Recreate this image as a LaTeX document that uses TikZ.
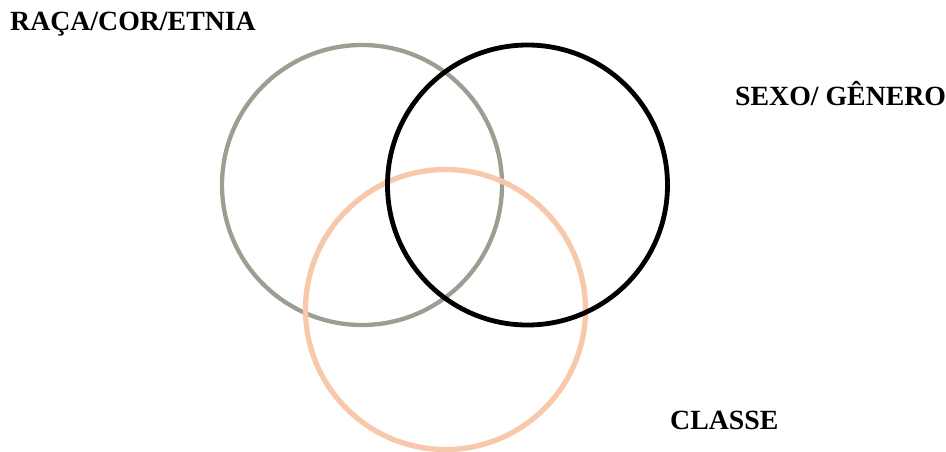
\documentclass[tikz,border=0pt]{standalone}
\usepackage{fontspec}
\setmainfont{Liberation Serif}
\usepackage{tikz}
\usetikzlibrary{positioning}
\definecolor{ringgray}{RGB}{156,158,145}
\definecolor{ringpeach}{RGB}{248,200,170}

\begin{document}
\begin{tikzpicture}[
    x=1pt, y=-1pt,
    every node/.style={font=\fontsize{27.8}{31}\selectfont\bfseries},
    ring/.style={circle, draw=#1, minimum size=280pt, inner sep=0pt},
    tag/.style={anchor=base west, inner sep=0pt}
]
\useasboundingbox (0,0) rectangle (946,451);

% the three circles
\node[ring=ringgray, line width=4.3pt] (raca) at (362,185) {};
\node[ring=ringpeach, line width=5.3pt] (classe) at (445.5,309.5) {};
\node[ring=black, line width=4.8pt] (sexo) at (527.5,185) {};

% labels
\node[tag] (racaLbl) at (10,30) {RAÇA/COR/ETNIA};
\node[tag] (sexoLbl) at (735,105) {SEXO/ GÊNERO};
\node[tag] (classeLbl) at (670,429) {CLASSE};

\end{tikzpicture}
\end{document}
